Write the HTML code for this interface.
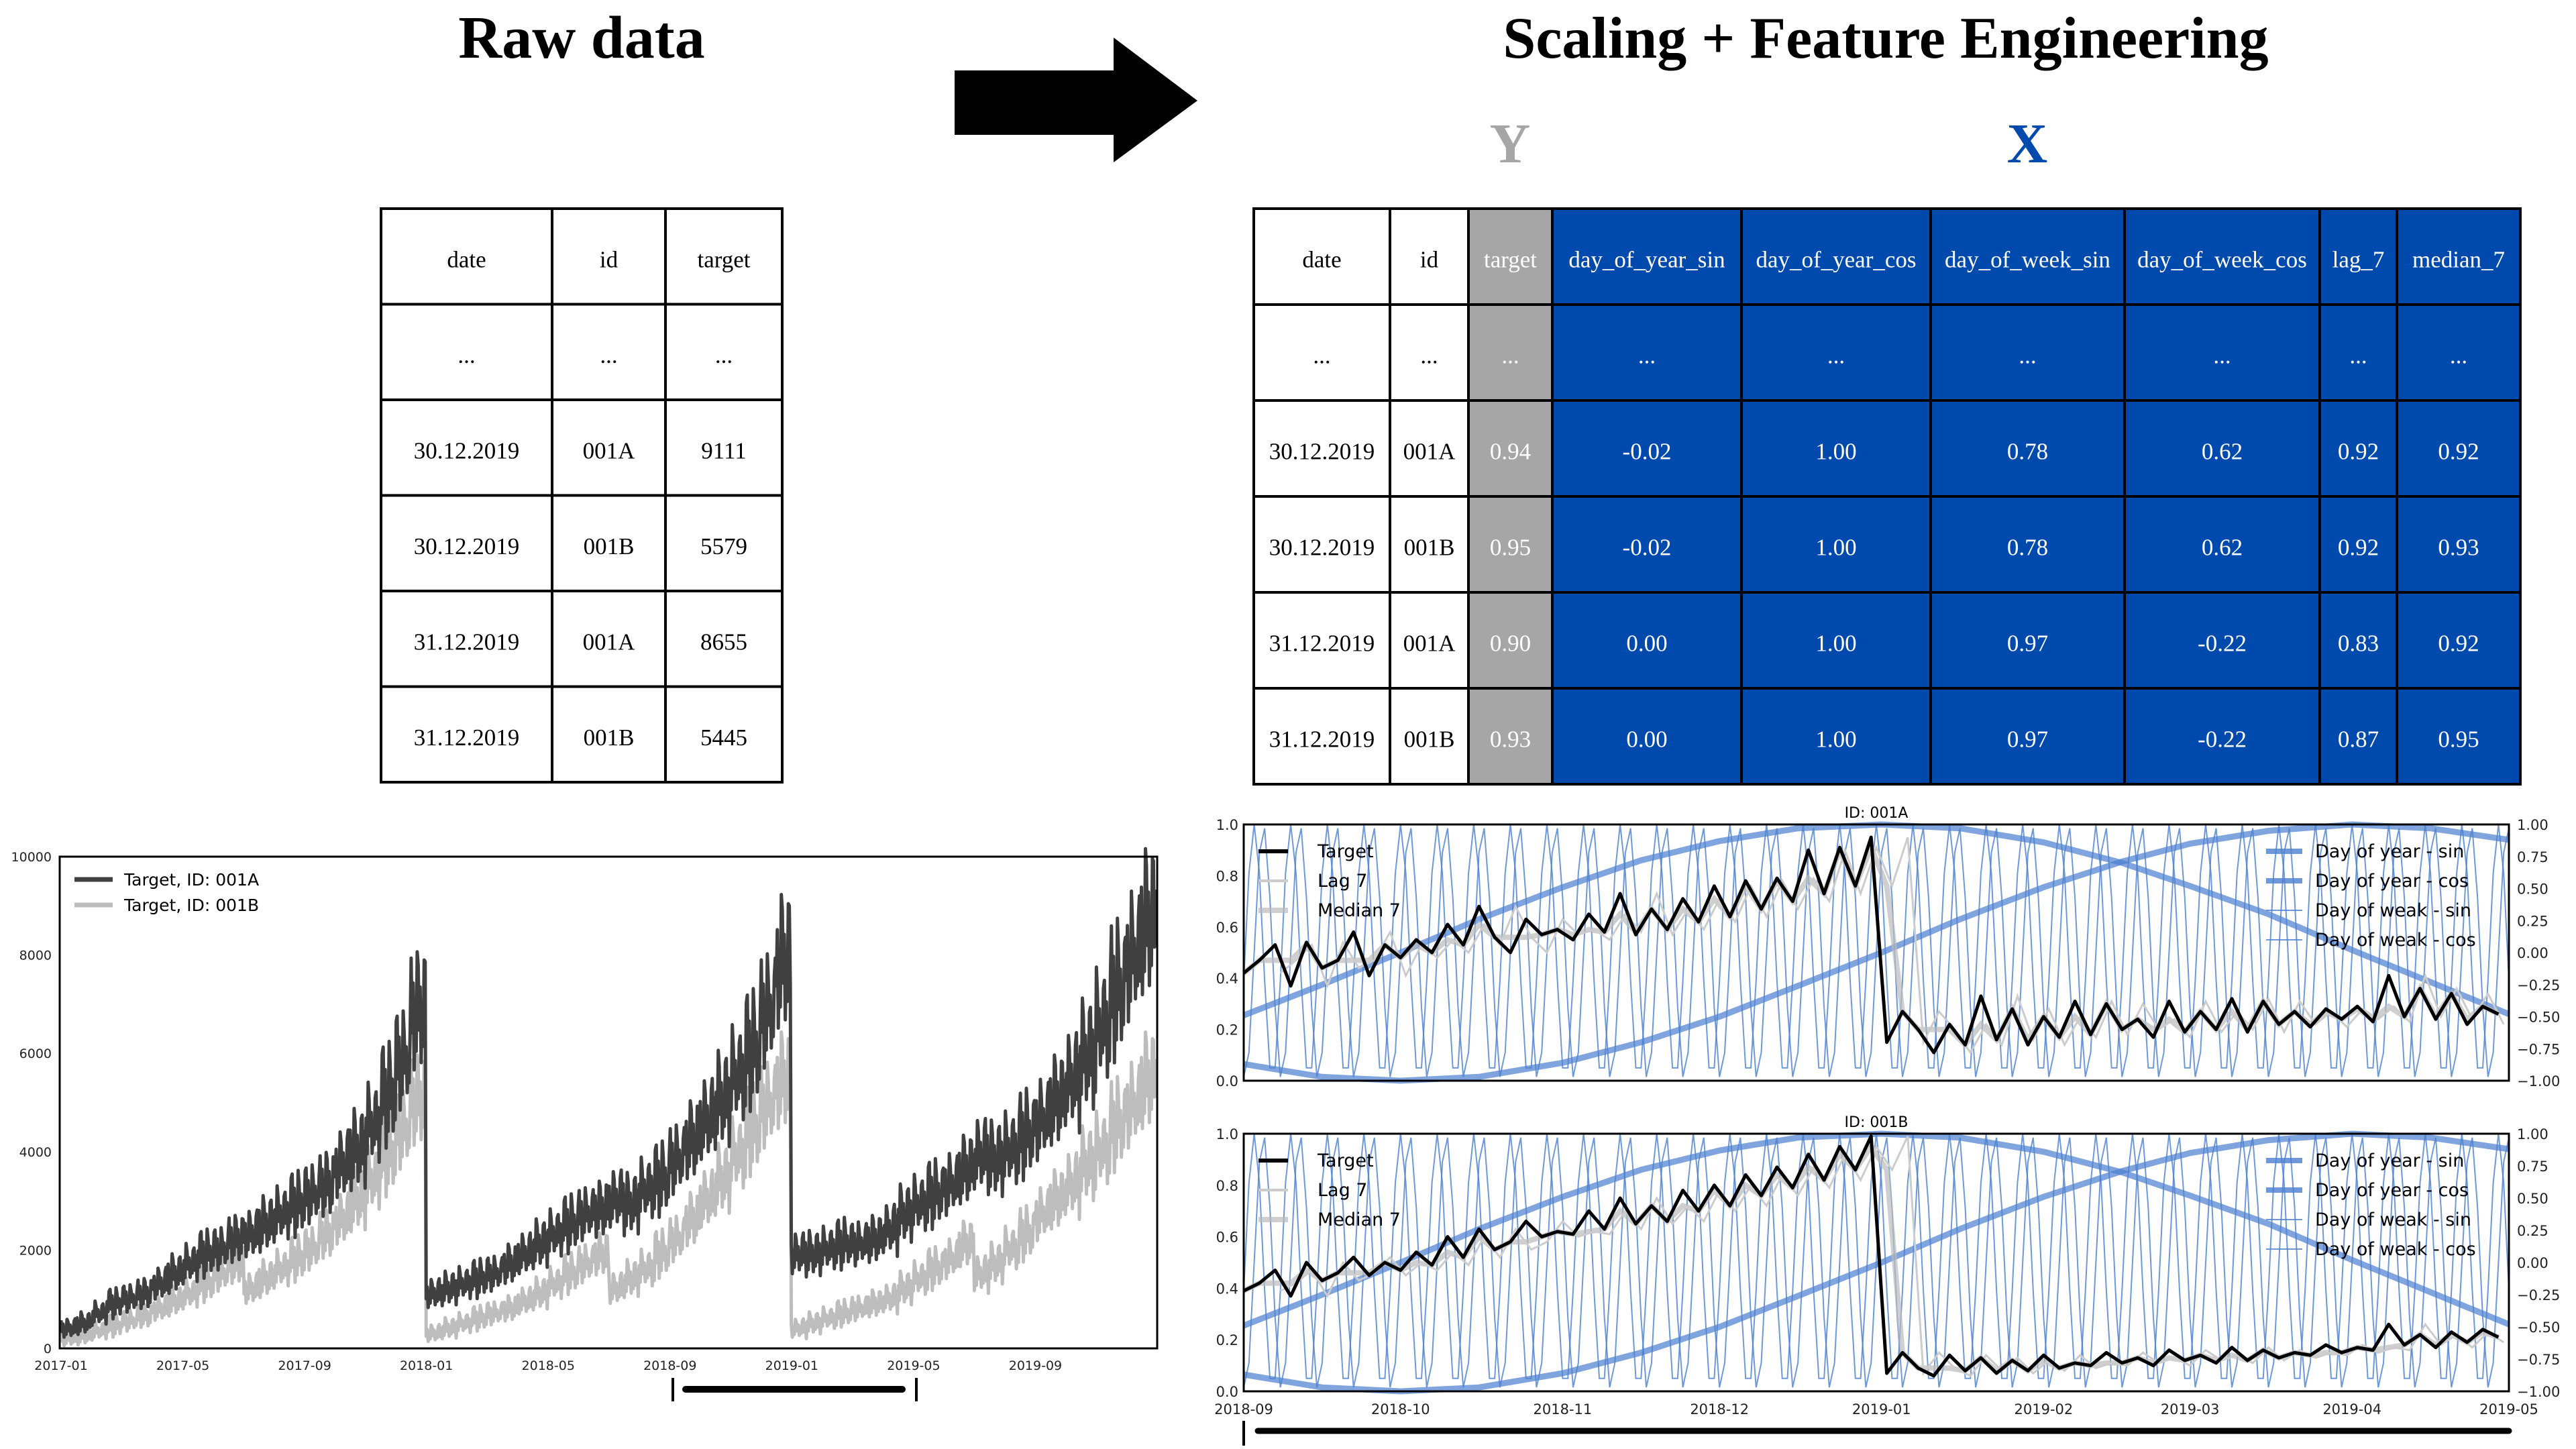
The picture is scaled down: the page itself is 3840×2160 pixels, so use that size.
<!DOCTYPE html>
<html><head><meta charset="utf-8"><style>
html,body{margin:0;padding:0;background:#fff;width:3840px;height:2160px;overflow:hidden}
svg{display:block}
.ser{font-family:"Liberation Serif",serif}
.mpl{font-family:"DejaVu Sans","Liberation Sans",sans-serif}
</style></head><body>
<svg id="root" width="3840" height="2160" viewBox="0 0 3840 2160" xmlns="http://www.w3.org/2000/svg">
<text class="ser" x="867" y="86" font-size="90" font-weight="bold" text-anchor="middle">Raw data</text>
<text class="ser" x="2811" y="86" font-size="88" font-weight="bold" text-anchor="middle">Scaling + Feature Engineering</text>
<polygon points="1423,105 1660,105 1660,56 1785,150 1660,242 1660,201 1423,201" fill="#000"/>
<text class="ser" x="2251" y="242" font-size="84" font-weight="bold" fill="#a6a6a6" text-anchor="middle">Y</text>
<text class="ser" x="3022" y="242" font-size="84" font-weight="bold" fill="#004aad" text-anchor="middle">X</text>
<g id="tables"></g>
<g id="leftChart"></g>
<g id="rightCharts"></g>
</svg>
<script>
// ---------- Left chart data (semi-monthly base levels per year) ----------
const leftYears = ["2017","2018","2019"];
const baseA2017 = [400,500,700,900,1000,1100,1300,1500,1700,1900,2000,2200,2300,2500,2700,2900,3100,3300,3700,4000,4500,5100,5800,6800];
const baseA2018 = [1100,1200,1300,1400,1500,1700,1900,2100,2300,2500,2700,2800,3000,2900,3200,3400,3800,4200,4600,5000,5500,6000,6800,7800];
const baseA2019 = [1900,1900,2000,2100,2100,2200,2400,2700,2900,3100,3300,3600,3900,3800,4000,4300,4600,5000,5400,5900,6500,7200,7900,8600];
const baseB2017 = [200,250,350,450,550,650,800,950,1100,1300,1500,1700,1200,1400,1600,1800,2000,2300,2600,3000,3400,3900,4400,5000];
const baseB2018 = [300,400,500,600,700,800,950,1100,1300,1500,1700,1900,1200,1400,1600,1900,2200,2600,3000,3400,3900,4400,4900,5400];
const baseB2019 = [400,500,600,700,800,900,1000,1200,1400,1600,1800,2100,1500,1700,2000,2300,2700,3000,3300,3700,4000,4500,4900,5400];
const weekdayPattern = [0.9,-0.3,0.5,-0.9,0.2,-0.6,1.0];
const weekNoise = [0.2,-0.4,0.7,-0.1,0.5,-0.6,0.1,0.9,-0.3,0.3,-0.8,0.4,0.0];
const leftYTicks = [0,2000,4000,6000,8000,10000];
const leftXTicks = ["2017-01","2017-05","2017-09","2018-01","2018-05","2018-09","2019-01","2019-05","2019-09"];

// ---------- Right chart data (every 3 days from 2018-09-01) ----------
const targetA = [0.42,0.47,0.53,0.37,0.54,0.44,0.47,0.58,0.41,0.53,0.48,0.55,0.50,0.61,0.53,0.68,0.56,0.50,0.63,0.57,0.59,0.55,0.65,0.58,0.73,0.57,0.67,0.59,0.71,0.62,0.76,0.64,0.78,0.67,0.79,0.70,0.90,0.73,0.91,0.76,0.95,
 0.15,0.27,0.20,0.11,0.22,0.14,0.33,0.16,0.28,0.14,0.25,0.17,0.31,0.18,0.30,0.20,0.24,0.17,0.31,0.19,0.27,0.20,0.32,0.19,0.31,0.22,0.27,0.21,0.28,0.24,0.29,0.23,0.41,0.25,0.36,0.24,0.34,0.22,0.29,0.26];
const targetB = [0.39,0.42,0.47,0.37,0.50,0.43,0.46,0.52,0.45,0.50,0.47,0.54,0.49,0.60,0.52,0.63,0.55,0.58,0.66,0.60,0.62,0.61,0.70,0.63,0.75,0.65,0.72,0.66,0.78,0.70,0.80,0.72,0.84,0.76,0.87,0.79,0.92,0.82,0.95,0.86,0.99,
 0.07,0.15,0.09,0.06,0.14,0.08,0.13,0.07,0.12,0.08,0.14,0.09,0.11,0.10,0.15,0.11,0.13,0.10,0.16,0.12,0.14,0.11,0.17,0.12,0.16,0.13,0.15,0.14,0.18,0.15,0.17,0.16,0.26,0.18,0.22,0.17,0.23,0.19,0.24,0.21];
const dayOfYearSin = [-0.87,-0.97,-1.0,-0.97,-0.86,-0.70,-0.50,-0.26,0.0,0.26,0.51,0.71,0.85,0.95,1.0,0.97,0.88];
const dayOfYearCos = [-0.49,-0.25,0.0,0.26,0.51,0.72,0.87,0.97,1.0,0.97,0.86,0.70,0.52,0.30,0.02,-0.23,-0.48];
const doySampleDays = [0,15,30,45,61,76,91,106,122,137,153,168,181,196,212,227,242];
const dowSin = [-0.97,-0.78,0.0,0.78,0.97,0.43,-0.43];
const dowCos = [-0.22,0.62,1.0,0.62,-0.22,-0.9,-0.9];
const rightXTicks = ["2018-09","2018-10","2018-11","2018-12","2019-01","2019-02","2019-03","2019-04","2019-05"];
const rightXTickDays = [0,30,61,91,122,153,181,212,242];
const rightYTicksL = ["0.0","0.2","0.4","0.6","0.8","1.0"];
const rightYTicksR = ["-1.00","-0.75","-0.50","-0.25","0.00","0.25","0.50","0.75","1.00"];

// ---------- Tables ----------
const rawHeaders = ["date","id","target"];
const rawRows = [["...","...","..."],["30.12.2019","001A","9111"],["30.12.2019","001B","5579"],["31.12.2019","001A","8655"],["31.12.2019","001B","5445"]];
const featHeaders = ["date","id","target","day_of_year_sin","day_of_year_cos","day_of_week_sin","day_of_week_cos","lag_7","median_7"];
const featRows = [["...","...","...","...","...","...","...","...","..."],
["30.12.2019","001A","0.94","-0.02","1.00","0.78","0.62","0.92","0.92"],
["30.12.2019","001B","0.95","-0.02","1.00","0.78","0.62","0.92","0.93"],
["31.12.2019","001A","0.90","0.00","1.00","0.97","-0.22","0.83","0.92"],
["31.12.2019","001B","0.93","0.00","1.00","0.97","-0.22","0.87","0.95"]];

const NS="http://www.w3.org/2000/svg";
function mk(tag,attrs,parent,txt){const e=document.createElementNS(NS,tag);for(const k in attrs)e.setAttribute(k,attrs[k]);if(txt!==undefined)e.textContent=txt;parent.appendChild(e);return e;}

function drawTable(g,xs,y0,rowH,headers,rows,fillFn,textFn,tname){
  const all=[headers].concat(rows);
  all.forEach((r,ri)=>{r.forEach((c,ci)=>{
    const rc=mk('rect',{x:xs[ci],y:y0+ri*rowH,width:xs[ci+1]-xs[ci],height:rowH,fill:fillFn(ri,ci),stroke:'#000','stroke-width':4},g);
    
    
    const t=mk('text',{x:(xs[ci]+xs[ci+1])/2,y:y0+ri*rowH+rowH/2+16,'font-size':35,'text-anchor':'middle',fill:textFn(ri,ci),'class':'ser'},g,c);
    
    
  });});
}
const tg=document.getElementById('tables');
drawTable(tg,[568,823,992,1166],311,142.5,rawHeaders,rawRows,()=> '#fff',()=> '#000','raw-table');
drawTable(tg,[1869,2072,2189,2314,2596,2878,3167,3458,3573,3757],311,143,featHeaders,featRows,
  (r,c)=>c<2?'#fff':(c==2?'#a6a6a6':'#004aad'),(r,c)=>c<2?'#000':'#fff','feature-table');

// ---------- Left chart ----------
(function(){
  const g=document.getElementById('leftChart');
  const X0=89,X1=1725,Y0=1277,Y1=2010;
  const pxPerMonth=(X1-91)/36;
  const xDay=d=>91+d/30.4375*pxPerMonth;
  const y=v=>Y1-v/10000*(Y1-Y0);
  function series(bases){
    const pts=[];
    bases.forEach((b,yi)=>{
      for(let d=0;d<365;d++){
        const base=b[Math.min(23,Math.floor(d/365*24))];
        const amp=0.18*base+150;
        const wn=weekNoise[Math.floor((d+yi*365)/7)%weekNoise.length];
        const v=Math.max(0,base+amp*(weekdayPattern[(d+yi*365)%7]*(0.8+0.3*wn)));
        pts.push(xDay(yi*365+d).toFixed(1)+','+y(v).toFixed(1));
      }
    });
    return pts.join(' ');
  }
  const lb=mk('polyline',{points:series([baseB2017,baseB2018,baseB2019]),fill:'none',stroke:'#bdbdbd','stroke-width':5,'stroke-linejoin':'round'},g);
  
  
  const la=mk('polyline',{points:series([baseA2017,baseA2018,baseA2019]),fill:'none',stroke:'#404040','stroke-width':5,'stroke-linejoin':'round'},g);
  
  
  const fr=mk('rect',{x:X0,y:Y0,width:X1-X0,height:Y1-Y0,fill:'none',stroke:'#000','stroke-width':3},g);
  
  
  leftYTicks.forEach(v=>{
    const t=mk('text',{x:X0-12,y:y(v)+7,'font-size':19,'text-anchor':'end','class':'mpl',fill:'#222'},g,String(v));
    
    
  });
  leftXTicks.forEach((s,i)=>{
    const t=mk('text',{x:91+i*4*pxPerMonth,y:Y1+32,'font-size':19,'text-anchor':'middle','class':'mpl',fill:'#222'},g,s);
    
    
  });
  [['Target, ID: 001A','#404040',1311],['Target, ID: 001B','#bdbdbd',1349]].forEach(e=>{
    const l=mk('line',{x1:111,x2:168,y1:e[2],y2:e[2],stroke:e[1],'stroke-width':7},g);
    
    
    const t=mk('text',{x:185,y:e[2]+9,'font-size':25,'class':'mpl'},g,e[0]);
    
    
  });
  const br=mk('path',{d:'M1003 2054 V2089 M1366 2054 V2089',stroke:'#000','stroke-width':4},g);
  
  
  const bb=mk('line',{x1:1022,x2:1345,y1:2071,y2:2071,stroke:'#000','stroke-width':10,'stroke-linecap':'round'},g);
  
  
})();

// ---------- Right charts ----------
function rightChart(Y0,Y1,target,title,showX){
  const g=document.getElementById('rightCharts');
  const X0=1854,X1=3740,span=242;
  const x=d=>X0+d/span*(X1-X0);
  const yl=v=>Y1-v*(Y1-Y0);
  const yr=v=>Y1-(v+1)/2*(Y1-Y0);
  [dowSin,dowCos].forEach((arr,k)=>{
    const pts=[];for(let d=0;d<=span;d++)pts.push(x(d).toFixed(1)+','+yr(arr[d%7]).toFixed(1));
    const p=mk('polyline',{points:pts.join(' '),fill:'none',stroke:'#4a7fd0','stroke-width':2,opacity:0.8},g);
    
    
  });
  [dayOfYearSin,dayOfYearCos].forEach((arr,k)=>{
    const pts=arr.map((v,i)=>x(doySampleDays[i]).toFixed(1)+','+yr(v).toFixed(1));
    const p=mk('polyline',{points:pts.join(' '),fill:'none',stroke:'#4a7fd0','stroke-width':9,opacity:0.7,'stroke-linejoin':'round'},g);
    
    
  });
  const med=target.map((v,i)=>{const w=target.slice(Math.max(0,i-2),i+1).slice().sort((a,b)=>a-b);return w[Math.floor(w.length/2)];});
  const mp=mk('polyline',{points:med.map((v,i)=>x(i*3).toFixed(1)+','+yl(v).toFixed(1)).join(' '),fill:'none',stroke:'#bbb','stroke-width':8,opacity:0.7},g);
  
  
  const lp=mk('polyline',{points:target.map((v,i)=>x(i*3+7).toFixed(1)+','+yl(v).toFixed(1)).filter((p,i)=>i*3+7<=span).join(' '),fill:'none',stroke:'#ccc','stroke-width':3},g);
  
  
  const tp=mk('polyline',{points:target.map((v,i)=>x(i*3).toFixed(1)+','+yl(v).toFixed(1)).join(' '),fill:'none',stroke:'#000','stroke-width':5,'stroke-linejoin':'round'},g);
  
  
  const fr=mk('rect',{x:X0,y:Y0,width:X1-X0,height:Y1-Y0,fill:'none',stroke:'#000','stroke-width':3},g);
  
  
  const tt=mk('text',{x:(X0+X1)/2,y:Y0-10,'font-size':22,'text-anchor':'middle','class':'mpl'},g,title);
  
  
  rightYTicksL.forEach((s,i)=>{
    const t=mk('text',{x:X0-8,y:yl(i/5)+8,'font-size':21,'text-anchor':'end','class':'mpl',fill:'#222'},g,s);
    
    
  });
  rightYTicksR.forEach((s,i)=>{
    const t=mk('text',{x:X1+12,y:yr(-1+i*0.25)+8,'font-size':21,'class':'mpl',fill:'#222'},g,s.replace('-','\u2212'));
    
    
  });
  if(showX){rightXTicks.forEach((s,i)=>{
    const t=mk('text',{x:x(rightXTickDays[i]),y:Y1+34,'font-size':21,'text-anchor':'middle','class':'mpl',fill:'#222'},g,s);
    
    
  });}
  [['Target','#000',6,1],['Lag 7','#ccc',4,1],['Median 7','#bbb',8,0.7]].forEach((e,i)=>{
    const yy=Y0+40+i*44;
    const l=mk('line',{x1:X0+22,x2:X0+66,y1:yy,y2:yy,stroke:e[1],'stroke-width':e[2],opacity:e[3]},g);
    
    
    const t=mk('text',{x:X0+110,y:yy+9,'font-size':27,'class':'mpl'},g,e[0]);
    
    
  });
  [['Day of year - sin',8],['Day of year - cos',8],['Day of weak - sin',2],['Day of weak - cos',2]].forEach((e,i)=>{
    const yy=Y0+40+i*44;
    const l=mk('line',{x1:3378,x2:3432,y1:yy,y2:yy,stroke:'#4a7fd0','stroke-width':e[1],opacity:0.8},g);
    
    
    const t=mk('text',{x:3451,y:yy+9,'font-size':27,'class':'mpl'},g,e[0]);
    
    
  });
}
rightChart(1229,1611,targetA,'ID: 001A',false);
rightChart(1690,2074,targetB,'ID: 001B',true);
(function(){
  const g=document.getElementById('rightCharts');
  const br=mk('path',{d:'M1854 2118 V2155',stroke:'#000','stroke-width':4},g);
  
  
  const bb=mk('line',{x1:1875,x2:3740,y1:2133,y2:2133,stroke:'#000','stroke-width':9,'stroke-linecap':'round'},g);
  
  
})();
</script>
</body></html>
